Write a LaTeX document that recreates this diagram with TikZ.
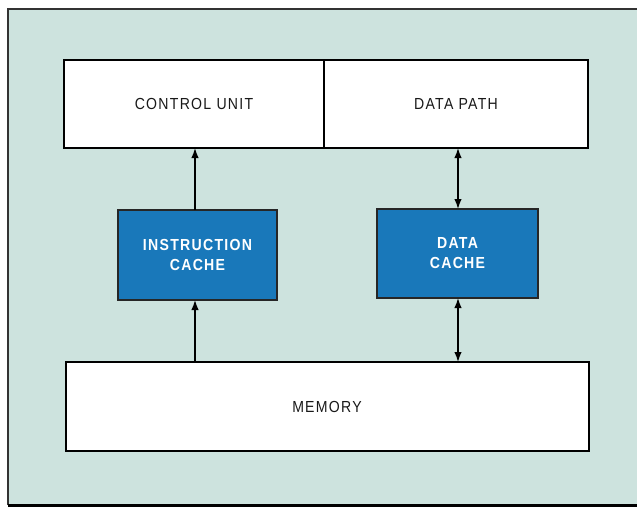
\documentclass[tikz,border=0pt]{standalone}
\usepackage{fontspec}
\setmainfont{Liberation Sans}
\newfontfamily\labelfont[LetterSpace=8, FakeStretch=0.88]{Liberation Sans}
\usetikzlibrary{arrows.meta}
\definecolor{panel}{HTML}{CDE3DE}
\definecolor{cacheblue}{HTML}{1978BA}
\tikzset{
  whitebox/.style={draw=black, line width=1.5pt, fill=white},
  cachebox/.style={draw=black!85, line width=1.8pt, fill=cacheblue},
  lbl/.style={font=\labelfont\fontsize{16}{18}\selectfont, text=black!90},
  clbl/.style={font=\labelfont\bfseries\fontsize{16}{20}\selectfont, text=white, align=center},
  link/.style={line width=1.5pt, -{Latex[length=10pt,width=7.5pt]}},
  dlink/.style={line width=1.5pt, {Latex[length=10pt,width=7.5pt]}-{Latex[length=10pt,width=7.5pt]}}
}
\begin{document}
\begin{tikzpicture}[x=1pt,y=-1pt]
  \useasboundingbox (0,0) rectangle (637,511);
  \fill[white] (0,0) rectangle (637,511);
  % panel background and frame
  \fill[panel] (8,9) rectangle (637,505);
  \draw[line width=1.2pt, black!80] (8,505) -- (8,9) -- (637,9);
  \draw[line width=3pt, black] (8,505) -- (637,505);

  % top unit: control unit | data path
  \draw[whitebox] (64,60) rectangle (588,148);
  \draw[line width=1.5pt] (324,60) -- (324,148);
  \node[lbl] (cu) at (194,104) {CONTROL UNIT};
  \node[lbl] (dp) at (456,104) {DATA PATH};
  \coordinate (cub) at (195,148);
  \coordinate (dpb) at (458,148);

  % caches
  \node[cachebox, minimum width=159pt, minimum height=90pt] (ic) at (197.5,255) {};
  \node[clbl] at (ic) {INSTRUCTION\\CACHE};
  \node[cachebox, minimum width=161pt, minimum height=89pt] (dc) at (457.5,253.5) {};
  \node[clbl] at (dc) {DATA\\CACHE};

  % memory
  \draw[whitebox] (66,362) rectangle (589,451);
  \node[lbl] (mem) at (327,407) {MEMORY};
  \coordinate (mtl) at (195,362);
  \coordinate (mtr) at (458,362);

  % connections
  \coordinate (ict) at (195,210);
  \coordinate (icb) at (195,300);
  \coordinate (dct) at (458,209);
  \coordinate (dcb) at (458,298);
  \draw[link] (ict) -- (cub);
  \draw[link] (mtl) -- (icb);
  \draw[dlink] (dpb) -- (dct);
  \draw[dlink] (dcb) -- (mtr);
\end{tikzpicture}
\end{document}
